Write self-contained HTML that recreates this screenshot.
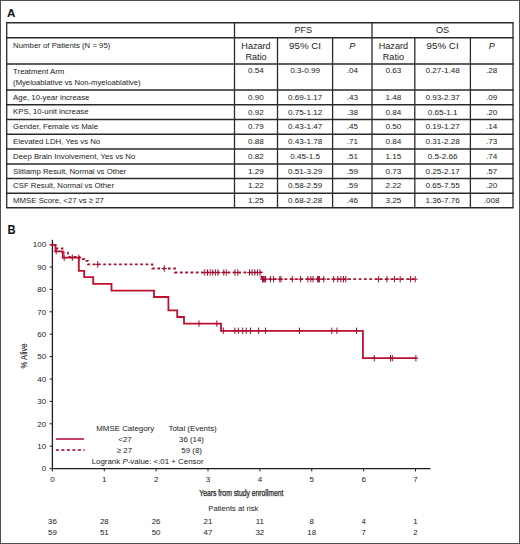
<!DOCTYPE html><html><head><meta charset="utf-8"><style>html,body{margin:0;padding:0;background:#fff;}svg{display:block;}text{font-family:"Liberation Sans", sans-serif;}</style></head><body>
<svg width="520" height="544" viewBox="0 0 520 544">
<rect x="0" y="0" width="520" height="544" fill="#fff"/>
<rect x="0.5" y="0.5" width="519" height="543" fill="none" stroke="#505050" stroke-width="1"/>
<text x="7" y="16.9" font-size="11.6" font-weight="bold" fill="#111">A</text>
<text x="7.4" y="233.5" font-size="12.2" textLength="8.1" lengthAdjust="spacingAndGlyphs" font-weight="bold" fill="#111">B</text>
<line x1="6.05" y1="22.7" x2="513.65" y2="22.7" stroke="#2a2a2a" stroke-width="1.5"/>
<line x1="6.05" y1="37.8" x2="513.65" y2="37.8" stroke="#2a2a2a" stroke-width="1.5"/>
<line x1="6.05" y1="63.9" x2="513.65" y2="63.9" stroke="#2a2a2a" stroke-width="1.5"/>
<line x1="6.05" y1="90" x2="513.65" y2="90" stroke="#2a2a2a" stroke-width="1.5"/>
<line x1="6.05" y1="104.8" x2="513.65" y2="104.8" stroke="#2a2a2a" stroke-width="1.5"/>
<line x1="6.05" y1="119.5" x2="513.65" y2="119.5" stroke="#2a2a2a" stroke-width="1.5"/>
<line x1="6.05" y1="134.2" x2="513.65" y2="134.2" stroke="#2a2a2a" stroke-width="1.5"/>
<line x1="6.05" y1="149" x2="513.65" y2="149" stroke="#2a2a2a" stroke-width="1.5"/>
<line x1="6.05" y1="164" x2="513.65" y2="164" stroke="#2a2a2a" stroke-width="1.5"/>
<line x1="6.05" y1="178.5" x2="513.65" y2="178.5" stroke="#2a2a2a" stroke-width="1.5"/>
<line x1="6.05" y1="193.3" x2="513.65" y2="193.3" stroke="#2a2a2a" stroke-width="1.5"/>
<line x1="6.05" y1="207.8" x2="513.65" y2="207.8" stroke="#2a2a2a" stroke-width="1.5"/>
<line x1="6.7" y1="22.7" x2="6.7" y2="207.8" stroke="#2a2a2a" stroke-width="1.3"/>
<line x1="234.5" y1="22.7" x2="234.5" y2="207.8" stroke="#2a2a2a" stroke-width="1.3"/>
<line x1="277.5" y1="37.8" x2="277.5" y2="207.8" stroke="#2a2a2a" stroke-width="1.3"/>
<line x1="332.6" y1="37.8" x2="332.6" y2="207.8" stroke="#2a2a2a" stroke-width="1.3"/>
<line x1="372" y1="22.7" x2="372" y2="207.8" stroke="#2a2a2a" stroke-width="1.3"/>
<line x1="414.8" y1="37.8" x2="414.8" y2="207.8" stroke="#2a2a2a" stroke-width="1.3"/>
<line x1="470.4" y1="37.8" x2="470.4" y2="207.8" stroke="#2a2a2a" stroke-width="1.3"/>
<line x1="513" y1="22.7" x2="513" y2="207.8" stroke="#2a2a2a" stroke-width="1.3"/>
<text x="303.25" y="33.4" font-size="9.1" text-anchor="middle" fill="#222" >PFS</text>
<text x="442.5" y="33.4" font-size="9.1" text-anchor="middle" fill="#222" >OS</text>
<text x="256" y="48.5" font-size="9.1" text-anchor="middle" fill="#222" >Hazard</text>
<text x="256" y="59.8" font-size="9.1" text-anchor="middle" fill="#222" >Ratio</text>
<text x="305.05" y="48.5" font-size="9.1" text-anchor="middle" fill="#222" textLength="32" lengthAdjust="spacingAndGlyphs">95% CI</text>
<text x="352.3" y="48.5" font-size="9.1" text-anchor="middle" fill="#222" font-style="italic">P</text>
<text x="393.4" y="48.5" font-size="9.1" text-anchor="middle" fill="#222" >Hazard</text>
<text x="393.4" y="59.8" font-size="9.1" text-anchor="middle" fill="#222" >Ratio</text>
<text x="442.6" y="48.5" font-size="9.1" text-anchor="middle" fill="#222" textLength="32" lengthAdjust="spacingAndGlyphs">95% CI</text>
<text x="491.7" y="48.5" font-size="9.1" text-anchor="middle" fill="#222" font-style="italic">P</text>
<text x="13.1" y="48.2" font-size="7.8" fill="#222" >Number of Patients (N = 95)</text>
<text x="13.1" y="73.5" font-size="7.8" fill="#222" >Treatment Arm</text>
<text x="256" y="73.4" font-size="8.1" text-anchor="middle" fill="#222" >0.54</text>
<text x="305.05" y="73.4" font-size="8.1" text-anchor="middle" fill="#222" >0.3-0.99</text>
<text x="352.3" y="73.4" font-size="8.1" text-anchor="middle" fill="#222" >.04</text>
<text x="393.4" y="73.4" font-size="8.1" text-anchor="middle" fill="#222" >0.63</text>
<text x="442.6" y="73.4" font-size="8.1" text-anchor="middle" fill="#222" >0.27-1.48</text>
<text x="491.7" y="73.4" font-size="8.1" text-anchor="middle" fill="#222" >.28</text>
<text x="13.1" y="99.6" font-size="7.8" fill="#222" >Age, 10-year increase</text>
<text x="256" y="99.9" font-size="8.1" text-anchor="middle" fill="#222" >0.90</text>
<text x="305.05" y="99.9" font-size="8.1" text-anchor="middle" fill="#222" >0.69-1.17</text>
<text x="352.3" y="99.9" font-size="8.1" text-anchor="middle" fill="#222" >.43</text>
<text x="393.4" y="99.9" font-size="8.1" text-anchor="middle" fill="#222" >1.48</text>
<text x="442.6" y="99.9" font-size="8.1" text-anchor="middle" fill="#222" >0.93-2.37</text>
<text x="491.7" y="99.9" font-size="8.1" text-anchor="middle" fill="#222" >.09</text>
<text x="13.1" y="114.4" font-size="7.8" fill="#222" >KPS, 10-unit increase</text>
<text x="256" y="114.7" font-size="8.1" text-anchor="middle" fill="#222" >0.92</text>
<text x="305.05" y="114.7" font-size="8.1" text-anchor="middle" fill="#222" >0.75-1.12</text>
<text x="352.3" y="114.7" font-size="8.1" text-anchor="middle" fill="#222" >.38</text>
<text x="393.4" y="114.7" font-size="8.1" text-anchor="middle" fill="#222" >0.84</text>
<text x="442.6" y="114.7" font-size="8.1" text-anchor="middle" fill="#222" >0.65-1.1</text>
<text x="491.7" y="114.7" font-size="8.1" text-anchor="middle" fill="#222" >.20</text>
<text x="13.1" y="129.1" font-size="7.8" fill="#222" >Gender, Female vs Male</text>
<text x="256" y="129.4" font-size="8.1" text-anchor="middle" fill="#222" >0.79</text>
<text x="305.05" y="129.4" font-size="8.1" text-anchor="middle" fill="#222" >0.43-1.47</text>
<text x="352.3" y="129.4" font-size="8.1" text-anchor="middle" fill="#222" >.45</text>
<text x="393.4" y="129.4" font-size="8.1" text-anchor="middle" fill="#222" >0.50</text>
<text x="442.6" y="129.4" font-size="8.1" text-anchor="middle" fill="#222" >0.19-1.27</text>
<text x="491.7" y="129.4" font-size="8.1" text-anchor="middle" fill="#222" >.14</text>
<text x="13.1" y="143.8" font-size="7.8" fill="#222" >Elevated LDH, Yes vs No</text>
<text x="256" y="144.1" font-size="8.1" text-anchor="middle" fill="#222" >0.88</text>
<text x="305.05" y="144.1" font-size="8.1" text-anchor="middle" fill="#222" >0.43-1.78</text>
<text x="352.3" y="144.1" font-size="8.1" text-anchor="middle" fill="#222" >.71</text>
<text x="393.4" y="144.1" font-size="8.1" text-anchor="middle" fill="#222" >0.84</text>
<text x="442.6" y="144.1" font-size="8.1" text-anchor="middle" fill="#222" >0.31-2.28</text>
<text x="491.7" y="144.1" font-size="8.1" text-anchor="middle" fill="#222" >.73</text>
<text x="13.1" y="158.6" font-size="7.8" fill="#222" >Deep Brain Involvement, Yes vs No</text>
<text x="256" y="158.9" font-size="8.1" text-anchor="middle" fill="#222" >0.82</text>
<text x="305.05" y="158.9" font-size="8.1" text-anchor="middle" fill="#222" >0.45-1.5</text>
<text x="352.3" y="158.9" font-size="8.1" text-anchor="middle" fill="#222" >.51</text>
<text x="393.4" y="158.9" font-size="8.1" text-anchor="middle" fill="#222" >1.15</text>
<text x="442.6" y="158.9" font-size="8.1" text-anchor="middle" fill="#222" >0.5-2.66</text>
<text x="491.7" y="158.9" font-size="8.1" text-anchor="middle" fill="#222" >.74</text>
<text x="13.1" y="173.6" font-size="7.8" fill="#222" >Slitlamp Result, Normal vs Other</text>
<text x="256" y="173.9" font-size="8.1" text-anchor="middle" fill="#222" >1.29</text>
<text x="305.05" y="173.9" font-size="8.1" text-anchor="middle" fill="#222" >0.51-3.29</text>
<text x="352.3" y="173.9" font-size="8.1" text-anchor="middle" fill="#222" >.59</text>
<text x="393.4" y="173.9" font-size="8.1" text-anchor="middle" fill="#222" >0.73</text>
<text x="442.6" y="173.9" font-size="8.1" text-anchor="middle" fill="#222" >0.25-2.17</text>
<text x="491.7" y="173.9" font-size="8.1" text-anchor="middle" fill="#222" >.57</text>
<text x="13.1" y="188.1" font-size="7.8" fill="#222" >CSF Result, Normal vs Other</text>
<text x="256" y="188.4" font-size="8.1" text-anchor="middle" fill="#222" >1.22</text>
<text x="305.05" y="188.4" font-size="8.1" text-anchor="middle" fill="#222" >0.58-2.59</text>
<text x="352.3" y="188.4" font-size="8.1" text-anchor="middle" fill="#222" >.59</text>
<text x="393.4" y="188.4" font-size="8.1" text-anchor="middle" fill="#222" >2.22</text>
<text x="442.6" y="188.4" font-size="8.1" text-anchor="middle" fill="#222" >0.65-7.55</text>
<text x="491.7" y="188.4" font-size="8.1" text-anchor="middle" fill="#222" >.20</text>
<text x="13.1" y="202.9" font-size="7.8" fill="#222" >MMSE Score, &lt;27 vs ≥ 27</text>
<text x="256" y="203.2" font-size="8.1" text-anchor="middle" fill="#222" >1.25</text>
<text x="305.05" y="203.2" font-size="8.1" text-anchor="middle" fill="#222" >0.68-2.28</text>
<text x="352.3" y="203.2" font-size="8.1" text-anchor="middle" fill="#222" >.46</text>
<text x="393.4" y="203.2" font-size="8.1" text-anchor="middle" fill="#222" >3.25</text>
<text x="442.6" y="203.2" font-size="8.1" text-anchor="middle" fill="#222" >1.36-7.76</text>
<text x="491.7" y="203.2" font-size="8.1" text-anchor="middle" fill="#222" >.008</text>
<text x="13.1" y="85.2" font-size="7.8" fill="#222" textLength="127.4" lengthAdjust="spacingAndGlyphs">(Myeloablative vs Non-myeloablative)</text>
<line x1="52.4" y1="239.8" x2="52.4" y2="469.2" stroke="#1e1e1e" stroke-width="1.3"/>
<line x1="51.8" y1="468.6" x2="430.5" y2="468.6" stroke="#1e1e1e" stroke-width="1.3"/>
<line x1="49.6" y1="468.6" x2="52.4" y2="468.6" stroke="#1e1e1e" stroke-width="1"/>
<text x="46.2" y="471.4" font-size="8.0" text-anchor="end" fill="#222" >0</text>
<line x1="49.6" y1="446.2" x2="52.4" y2="446.2" stroke="#1e1e1e" stroke-width="1"/>
<text x="46.2" y="449" font-size="8.0" text-anchor="end" fill="#222" >10</text>
<line x1="49.6" y1="423.8" x2="52.4" y2="423.8" stroke="#1e1e1e" stroke-width="1"/>
<text x="46.2" y="426.6" font-size="8.0" text-anchor="end" fill="#222" >20</text>
<line x1="49.6" y1="401.4" x2="52.4" y2="401.4" stroke="#1e1e1e" stroke-width="1"/>
<text x="46.2" y="404.2" font-size="8.0" text-anchor="end" fill="#222" >30</text>
<line x1="49.6" y1="379" x2="52.4" y2="379" stroke="#1e1e1e" stroke-width="1"/>
<text x="46.2" y="381.8" font-size="8.0" text-anchor="end" fill="#222" >40</text>
<line x1="49.6" y1="356.6" x2="52.4" y2="356.6" stroke="#1e1e1e" stroke-width="1"/>
<text x="46.2" y="359.4" font-size="8.0" text-anchor="end" fill="#222" >50</text>
<line x1="49.6" y1="334.2" x2="52.4" y2="334.2" stroke="#1e1e1e" stroke-width="1"/>
<text x="46.2" y="337" font-size="8.0" text-anchor="end" fill="#222" >60</text>
<line x1="49.6" y1="311.8" x2="52.4" y2="311.8" stroke="#1e1e1e" stroke-width="1"/>
<text x="46.2" y="314.6" font-size="8.0" text-anchor="end" fill="#222" >70</text>
<line x1="49.6" y1="289.4" x2="52.4" y2="289.4" stroke="#1e1e1e" stroke-width="1"/>
<text x="46.2" y="292.2" font-size="8.0" text-anchor="end" fill="#222" >80</text>
<line x1="49.6" y1="267" x2="52.4" y2="267" stroke="#1e1e1e" stroke-width="1"/>
<text x="46.2" y="269.8" font-size="8.0" text-anchor="end" fill="#222" >90</text>
<line x1="49.6" y1="244.6" x2="52.4" y2="244.6" stroke="#1e1e1e" stroke-width="1"/>
<text x="46.2" y="247.4" font-size="8.0" text-anchor="end" fill="#222" >100</text>
<line x1="52.4" y1="468.6" x2="52.4" y2="471.4" stroke="#1e1e1e" stroke-width="1"/>
<text x="52.4" y="481.8" font-size="8.0" text-anchor="middle" fill="#222" >0</text>
<line x1="104.27" y1="468.6" x2="104.27" y2="471.4" stroke="#1e1e1e" stroke-width="1"/>
<text x="104.27" y="481.8" font-size="8.0" text-anchor="middle" fill="#222" >1</text>
<line x1="156.14" y1="468.6" x2="156.14" y2="471.4" stroke="#1e1e1e" stroke-width="1"/>
<text x="156.14" y="481.8" font-size="8.0" text-anchor="middle" fill="#222" >2</text>
<line x1="208.01" y1="468.6" x2="208.01" y2="471.4" stroke="#1e1e1e" stroke-width="1"/>
<text x="208.01" y="481.8" font-size="8.0" text-anchor="middle" fill="#222" >3</text>
<line x1="259.88" y1="468.6" x2="259.88" y2="471.4" stroke="#1e1e1e" stroke-width="1"/>
<text x="259.88" y="481.8" font-size="8.0" text-anchor="middle" fill="#222" >4</text>
<line x1="311.75" y1="468.6" x2="311.75" y2="471.4" stroke="#1e1e1e" stroke-width="1"/>
<text x="311.75" y="481.8" font-size="8.0" text-anchor="middle" fill="#222" >5</text>
<line x1="363.62" y1="468.6" x2="363.62" y2="471.4" stroke="#1e1e1e" stroke-width="1"/>
<text x="363.62" y="481.8" font-size="8.0" text-anchor="middle" fill="#222" >6</text>
<line x1="415.49" y1="468.6" x2="415.49" y2="471.4" stroke="#1e1e1e" stroke-width="1"/>
<text x="415.49" y="481.8" font-size="8.0" text-anchor="middle" fill="#222" >7</text>
<text x="199.3" y="495.6" font-size="8.4" fill="#222" stroke="#222" stroke-width="0.25" textLength="84" lengthAdjust="spacingAndGlyphs">Years from study enrollment</text>
<text transform="translate(26.8,368.4) rotate(-90)" x="0" y="0" font-size="8.2" fill="#222" stroke="#222" stroke-width="0.12" textLength="25" lengthAdjust="spacingAndGlyphs">% Alive</text>
<text x="208.3" y="510.6" font-size="7.65" fill="#222" >Patients at risk</text>
<text x="52.4" y="523.5" font-size="7.9" text-anchor="middle" fill="#222" >36</text>
<text x="52.4" y="535.2" font-size="7.9" text-anchor="middle" fill="#222" >59</text>
<text x="104.27" y="523.5" font-size="7.9" text-anchor="middle" fill="#222" >28</text>
<text x="104.27" y="535.2" font-size="7.9" text-anchor="middle" fill="#222" >51</text>
<text x="156.14" y="523.5" font-size="7.9" text-anchor="middle" fill="#222" >26</text>
<text x="156.14" y="535.2" font-size="7.9" text-anchor="middle" fill="#222" >50</text>
<text x="208.01" y="523.5" font-size="7.9" text-anchor="middle" fill="#222" >21</text>
<text x="208.01" y="535.2" font-size="7.9" text-anchor="middle" fill="#222" >47</text>
<text x="259.88" y="523.5" font-size="7.9" text-anchor="middle" fill="#222" >11</text>
<text x="259.88" y="535.2" font-size="7.9" text-anchor="middle" fill="#222" >32</text>
<text x="311.75" y="523.5" font-size="7.9" text-anchor="middle" fill="#222" >8</text>
<text x="311.75" y="535.2" font-size="7.9" text-anchor="middle" fill="#222" >18</text>
<text x="363.62" y="523.5" font-size="7.9" text-anchor="middle" fill="#222" >4</text>
<text x="363.62" y="535.2" font-size="7.9" text-anchor="middle" fill="#222" >7</text>
<text x="415.49" y="523.5" font-size="7.9" text-anchor="middle" fill="#222" >1</text>
<text x="415.49" y="535.2" font-size="7.9" text-anchor="middle" fill="#222" >2</text>
<path d="M50.6,244.8 H55.5 V248.4 H62.5 V252.6 H68 V256.8 H79.5 V259.2 H84.5 V260.8 H88 V264.4 H152.3 V268.5 H175 V272.5 H261.5 V279.2 H417" fill="none" stroke="#b00e2c" stroke-width="1.8" stroke-dasharray="2.7 2.6" stroke-dashoffset="2.0"/>
<path d="M50.6,244.8 H55.5 V251.3 H62.8 V257.7 H78.8 V270.8 H84.2 V277.2 H93.2 V283.8 H111.5 V290.7 H154 V297 H168.4 V310.4 H177.2 V317 H184 V323.6 H221 V330.8 H362.9 V358.2 H416.5" fill="none" stroke="#c0102e" stroke-width="1.8"/>
<path d="M56.2,248.1V254.5M53.8,251.3H58.6" stroke="#a30f33" stroke-width="1.0" fill="none"/>
<path d="M64.2,254.5V260.9M61.8,257.7H66.6" stroke="#a30f33" stroke-width="1.0" fill="none"/>
<path d="M72.3,254.5V260.9M69.9,257.7H74.7" stroke="#a30f33" stroke-width="1.0" fill="none"/>
<path d="M78.8,254.5V260.9M76.4,257.7H81.2" stroke="#a30f33" stroke-width="1.0" fill="none"/>
<path d="M199,320.4V326.8M196.6,323.6H201.4" stroke="#a30f33" stroke-width="1.0" fill="none"/>
<path d="M216.8,320.4V326.8M214.4,323.6H219.2" stroke="#a30f33" stroke-width="1.0" fill="none"/>
<path d="M223.3,327.6V334M220.9,330.8H225.7" stroke="#a30f33" stroke-width="1.0" fill="none"/>
<path d="M234.9,327.6V334M232.5,330.8H237.3" stroke="#a30f33" stroke-width="1.0" fill="none"/>
<path d="M238.4,327.6V334M236,330.8H240.8" stroke="#a30f33" stroke-width="1.0" fill="none"/>
<path d="M242.7,327.6V334M240.3,330.8H245.1" stroke="#a30f33" stroke-width="1.0" fill="none"/>
<path d="M246.2,327.6V334M243.8,330.8H248.6" stroke="#a30f33" stroke-width="1.0" fill="none"/>
<path d="M250.5,327.6V334M248.1,330.8H252.9" stroke="#a30f33" stroke-width="1.0" fill="none"/>
<path d="M258.6,327.6V334M256.2,330.8H261" stroke="#a30f33" stroke-width="1.0" fill="none"/>
<path d="M265.5,327.6V334M263.1,330.8H267.9" stroke="#a30f33" stroke-width="1.0" fill="none"/>
<path d="M299.5,327.6V334M297.1,330.8H301.9" stroke="#a30f33" stroke-width="1.0" fill="none"/>
<path d="M331.8,327.6V334M329.4,330.8H334.2" stroke="#a30f33" stroke-width="1.0" fill="none"/>
<path d="M336.9,327.6V334M334.5,330.8H339.3" stroke="#a30f33" stroke-width="1.0" fill="none"/>
<path d="M356.5,327.6V334M354.1,330.8H358.9" stroke="#a30f33" stroke-width="1.0" fill="none"/>
<path d="M374.3,355V361.4M371.9,358.2H376.7" stroke="#a30f33" stroke-width="1.0" fill="none"/>
<path d="M390.5,355V361.4M388.1,358.2H392.9" stroke="#a30f33" stroke-width="1.0" fill="none"/>
<path d="M392.3,355V361.4M389.9,358.2H394.7" stroke="#a30f33" stroke-width="1.0" fill="none"/>
<path d="M415.9,355V361.4M413.5,358.2H418.3" stroke="#a30f33" stroke-width="1.0" fill="none"/>
<path d="M97.7,261.2V267.6M95.3,264.4H100.1" stroke="#a30f33" stroke-width="1.0" fill="none"/>
<path d="M164.3,265.3V271.7M161.9,268.5H166.7" stroke="#a30f33" stroke-width="1.0" fill="none"/>
<path d="M204.8,269.3V275.7M202.4,272.5H207.2" stroke="#a30f33" stroke-width="1.0" fill="none"/>
<path d="M207.5,269.3V275.7M205.1,272.5H209.9" stroke="#a30f33" stroke-width="1.0" fill="none"/>
<path d="M210.2,269.3V275.7M207.8,272.5H212.6" stroke="#a30f33" stroke-width="1.0" fill="none"/>
<path d="M212.7,269.3V275.7M210.3,272.5H215.1" stroke="#a30f33" stroke-width="1.0" fill="none"/>
<path d="M215.6,269.3V275.7M213.2,272.5H218" stroke="#a30f33" stroke-width="1.0" fill="none"/>
<path d="M218,269.3V275.7M215.6,272.5H220.4" stroke="#a30f33" stroke-width="1.0" fill="none"/>
<path d="M223.8,269.3V275.7M221.4,272.5H226.2" stroke="#a30f33" stroke-width="1.0" fill="none"/>
<path d="M226.3,269.3V275.7M223.9,272.5H228.7" stroke="#a30f33" stroke-width="1.0" fill="none"/>
<path d="M235,269.3V275.7M232.6,272.5H237.4" stroke="#a30f33" stroke-width="1.0" fill="none"/>
<path d="M237.8,269.3V275.7M235.4,272.5H240.2" stroke="#a30f33" stroke-width="1.0" fill="none"/>
<path d="M249.5,269.3V275.7M247.1,272.5H251.9" stroke="#a30f33" stroke-width="1.0" fill="none"/>
<path d="M252.2,269.3V275.7M249.8,272.5H254.6" stroke="#a30f33" stroke-width="1.0" fill="none"/>
<path d="M254.8,269.3V275.7M252.4,272.5H257.2" stroke="#a30f33" stroke-width="1.0" fill="none"/>
<path d="M257.6,269.3V275.7M255.2,272.5H260" stroke="#a30f33" stroke-width="1.0" fill="none"/>
<path d="M260,269.3V275.7M257.6,272.5H262.4" stroke="#a30f33" stroke-width="1.0" fill="none"/>
<path d="M262.5,276V282.4M260.1,279.2H264.9" stroke="#a30f33" stroke-width="1.0" fill="none"/>
<path d="M263.6,276V282.4M261.2,279.2H266" stroke="#a30f33" stroke-width="1.0" fill="none"/>
<path d="M264.7,276V282.4M262.3,279.2H267.1" stroke="#a30f33" stroke-width="1.0" fill="none"/>
<path d="M265.6,276V282.4M263.2,279.2H268" stroke="#a30f33" stroke-width="1.0" fill="none"/>
<path d="M270.4,276V282.4M268,279.2H272.8" stroke="#a30f33" stroke-width="1.0" fill="none"/>
<path d="M273.6,276V282.4M271.2,279.2H276" stroke="#a30f33" stroke-width="1.0" fill="none"/>
<path d="M279.8,276V282.4M277.4,279.2H282.2" stroke="#a30f33" stroke-width="1.0" fill="none"/>
<path d="M281,276V282.4M278.6,279.2H283.4" stroke="#a30f33" stroke-width="1.0" fill="none"/>
<path d="M292.3,276V282.4M289.9,279.2H294.7" stroke="#a30f33" stroke-width="1.0" fill="none"/>
<path d="M300.6,276V282.4M298.2,279.2H303" stroke="#a30f33" stroke-width="1.0" fill="none"/>
<path d="M307.9,276V282.4M305.5,279.2H310.3" stroke="#a30f33" stroke-width="1.0" fill="none"/>
<path d="M310.8,276V282.4M308.4,279.2H313.2" stroke="#a30f33" stroke-width="1.0" fill="none"/>
<path d="M313,276V282.4M310.6,279.2H315.4" stroke="#a30f33" stroke-width="1.0" fill="none"/>
<path d="M317.6,276V282.4M315.2,279.2H320" stroke="#a30f33" stroke-width="1.0" fill="none"/>
<path d="M318.6,276V282.4M316.2,279.2H321" stroke="#a30f33" stroke-width="1.0" fill="none"/>
<path d="M319.4,276V282.4M317,279.2H321.8" stroke="#a30f33" stroke-width="1.0" fill="none"/>
<path d="M323.8,276V282.4M321.4,279.2H326.2" stroke="#a30f33" stroke-width="1.0" fill="none"/>
<path d="M333.7,276V282.4M331.3,279.2H336.1" stroke="#a30f33" stroke-width="1.0" fill="none"/>
<path d="M337.7,276V282.4M335.3,279.2H340.1" stroke="#a30f33" stroke-width="1.0" fill="none"/>
<path d="M340.9,276V282.4M338.5,279.2H343.3" stroke="#a30f33" stroke-width="1.0" fill="none"/>
<path d="M343.5,276V282.4M341.1,279.2H345.9" stroke="#a30f33" stroke-width="1.0" fill="none"/>
<path d="M345.8,276V282.4M343.4,279.2H348.2" stroke="#a30f33" stroke-width="1.0" fill="none"/>
<path d="M378.6,276V282.4M376.2,279.2H381" stroke="#a30f33" stroke-width="1.0" fill="none"/>
<path d="M386.9,276V282.4M384.5,279.2H389.3" stroke="#a30f33" stroke-width="1.0" fill="none"/>
<path d="M394.4,276V282.4M392,279.2H396.8" stroke="#a30f33" stroke-width="1.0" fill="none"/>
<path d="M400.2,276V282.4M397.8,279.2H402.6" stroke="#a30f33" stroke-width="1.0" fill="none"/>
<path d="M410.6,276V282.4M408.2,279.2H413" stroke="#a30f33" stroke-width="1.0" fill="none"/>
<path d="M415.2,276V282.4M412.8,279.2H417.6" stroke="#a30f33" stroke-width="1.0" fill="none"/>
<line x1="55.9" y1="439" x2="83.9" y2="439" stroke="#c62b55" stroke-width="1.8"/>
<line x1="55.9" y1="450" x2="84.6" y2="450" stroke="#b83a5c" stroke-width="1.8" stroke-dasharray="3.0 2.5"/>
<text x="96.3" y="431.2" font-size="7.9" fill="#222" >MMSE Category</text>
<text x="168.5" y="431.3" font-size="7.9" fill="#222" >Total (Events)</text>
<text x="118.3" y="441.7" font-size="7.9" fill="#222" >&lt;27</text>
<text x="179" y="441.7" font-size="7.9" fill="#222" >36 (14)</text>
<text x="116.8" y="452.5" font-size="7.9" fill="#222" >≥ 27</text>
<text x="181.3" y="452.5" font-size="7.9" fill="#222" >59 (8)</text>
<text x="91.7" y="463.6" font-size="7.9" fill="#222" >Logrank <tspan font-style="italic">P</tspan>-value: &lt;.01 + Censor</text>
</svg></body></html>
